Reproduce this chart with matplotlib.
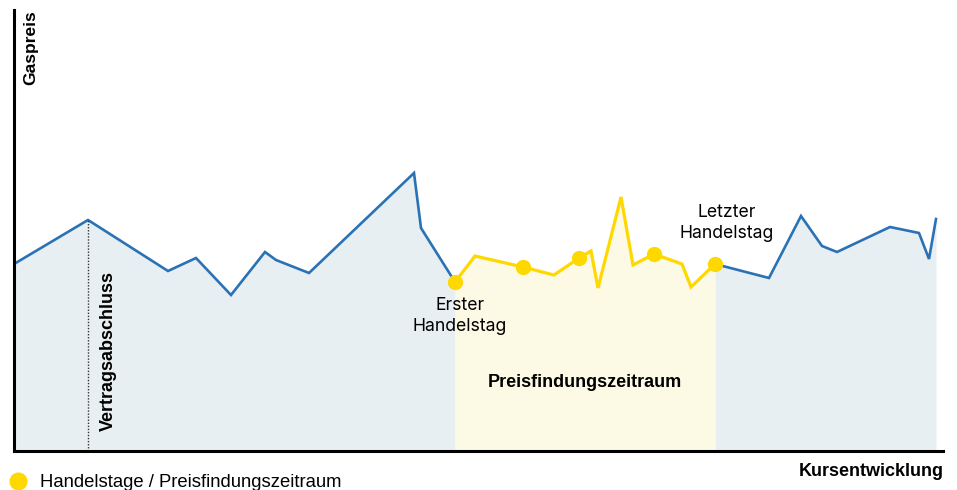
import matplotlib.pyplot as plt
import numpy as np

# Kursverlauf (x = Zeit, y = Preis), vor / während / nach dem Preisfindungszeitraum
x_vor = [0, 74, 154, 182, 217, 251, 262, 295, 400, 407, 441]
y_vor = [187, 231, 180, 193, 156, 199, 191, 178, 278, 223, 169]
x_preis = [441, 461, 509, 540, 565, 577, 584, 607, 619, 640, 668, 677, 701]
y_preis = [169, 195, 184, 176, 193, 200, 163, 254, 186, 197, 187, 164, 187]
x_nach = [701, 755, 787, 808, 823, 876, 905, 915, 922]
y_nach = [187, 173, 235, 205, 199, 224, 218, 192, 232]
# Handelstage (gelbe Punkte)
x_tage = [441, 509, 565, 640, 701]
y_tage = [169, 184, 193, 197, 187]
x_vertrag = 74

blau = '#2a72b5'
gelb = '#ffd800'

fig = plt.figure(figsize=(9.57, 4.9), dpi=100)
ax = fig.add_axes([14/957, 39/490, 931/957, 441/490])
ax.set_xlim(0, 931)
ax.set_ylim(0, 441)

ax.fill_between(x_vor, y_vor, 0, color='#e8eff2', lw=0)
ax.fill_between(x_nach, y_nach, 0, color='#e8eff2', lw=0)
ax.fill_between(x_preis, y_preis, 0, color='#fcf9e5', lw=0)
ax.plot(x_vor, y_vor, color=blau, lw=1.9, solid_joinstyle='miter')
ax.plot(x_nach, y_nach, color=blau, lw=1.9, solid_joinstyle='miter')
ax.plot(x_preis, y_preis, color=gelb, lw=2.3, solid_joinstyle='miter')
ax.plot(x_tage, y_tage, 'o', color=gelb, ms=10)

ax.plot([x_vertrag, x_vertrag], [0, y_vor[1]], color='#333333', lw=1, ls=(0, (1, 1.2)))

ax.text(94, 100, 'Vertragsabschluss', rotation=90, ha='center', va='center',
        fontsize=13, fontweight='bold', family='Liberation Sans')
ax.text(571, 69, 'Preisfindungszeitraum', ha='center', va='center',
        fontsize=13, fontweight='bold', family='Liberation Sans')
ax.text(446, 135, 'Erster\nHandelstag', ha='center', va='center',
        fontsize=12.7, family='Inter', linespacing=1.3)
ax.text(713, 228, 'Letzter\nHandelstag', ha='center', va='center',
        fontsize=12.7, family='Inter', linespacing=1.3)

for s in ['top', 'right']:
    ax.spines[s].set_visible(False)
ax.spines['left'].set_linewidth(2.2)
ax.spines['bottom'].set_linewidth(2.2)
ax.spines['bottom'].set_bounds(0, 929)
ax.set_xticks([])
ax.set_yticks([])
ax.patch.set_alpha(0)

fig.text(31/957, 1 - 48/490, 'Gaspreis', rotation=90, ha='center', va='center',
         fontsize=12.5, fontweight='bold', family='Liberation Sans')
fig.text(944/957, 1 - 471/490, 'Kursentwicklung', ha='right', va='center',
         fontsize=13, fontweight='bold', family='Liberation Sans')
fig.lines.append(plt.Line2D([18/957], [1 - 481/490], marker='o', color=gelb, ms=12,
                            transform=fig.transFigure))
fig.text(40/957, 1 - 482/490, 'Handelstage / Preisfindungszeitraum', ha='left', va='center',
         fontsize=13.3, family='Liberation Sans')

fig.savefig('out.png', dpi=100)
